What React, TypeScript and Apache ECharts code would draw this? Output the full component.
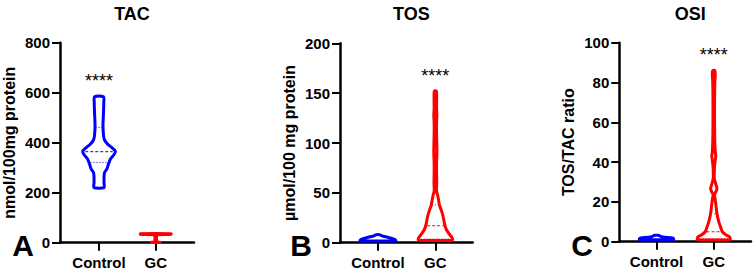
import React, { useEffect, useRef } from 'react';
import * as echarts from 'echarts';

const categories = ['Control', 'GC'];
const panelTitles = ['TAC', 'TOS', 'OSI'];
const panelLetters = ['A', 'B', 'C'];
const yNames = ['nmol/100mg protein', 'µmol/100 mg protein', 'TOS/TAC ratio'];
const yMaxes = [800, 200, 100];
const yIntervals = [200, 50, 20];
const starLabel = '****';
const starValues = [648, 167, 94];
const starGroups = [0, 1, 1];

// Violin outlines: value levels and half-widths (fraction of category spacing)
const tacControlY = [584, 560, 520, 470, 430, 411, 395, 380, 366, 352, 335, 315, 295, 280, 260, 240, 220];
const tacControlW = [0.079, 0.084, 0.079, 0.07, 0.079, 0.096, 0.149, 0.228, 0.289, 0.263, 0.202, 0.167, 0.14, 0.096, 0.088, 0.088, 0.088];
const tacGcY = [36, 34, 32, 30, 6, 3, 1.5];
const tacGcW = [0.272, 0.272, 0.053, 0.018, 0.018, 0.035, 0.079];

const tosControlY = [8, 6.5, 5, 3.5, 2.5, 1.8];
const tosControlW = [0.03, 0.09, 0.2, 0.28, 0.31, 0.31];
const tosGcY = [152, 145, 135, 128, 120, 110, 100, 90, 80, 70, 60, 52, 48, 43, 38, 33, 28, 22, 18, 13, 8, 5, 3.5, 2.5];
const tosGcW = [0.018, 0.023, 0.021, 0.027, 0.021, 0.021, 0.025, 0.027, 0.021, 0.021, 0.024, 0.02, 0.038, 0.055, 0.07, 0.1, 0.128, 0.15, 0.163, 0.193, 0.25, 0.29, 0.3, 0.29];

const osiControlY = [3.2, 2.7, 2.2, 1.9, 1.5, 1.1];
const osiControlW = [0.035, 0.07, 0.14, 0.281, 0.298, 0.298];
const osiGcY = [86, 84, 80, 70, 60, 50, 45, 43, 41, 38, 32, 28, 26.5, 25, 23.5, 22, 19, 14, 10, 7, 5, 3.5, 2.5, 1.5, 1];
const osiGcW = [0.018, 0.026, 0.018, 0.014, 0.014, 0.018, 0.026, 0.035, 0.026, 0.014, 0.009, 0.044, 0.056, 0.035, 0.011, 0.021, 0.035, 0.056, 0.088, 0.123, 0.149, 0.211, 0.272, 0.289, 0.281];

// Median and quartiles
const tacControlQuart = [364, 321, 461];
const tosGcQuart = [17, 3.7, 38];
const osiGcQuart = [5, 1.5, 14];

const BLUE = '#0000ff';
const RED = '#ff0000';
const FONT = "'Liberation Sans', Arial, sans-serif";

const grids = [
  { left: 60, top: 42.7, width: 134, height: 200, xmin: -0.688, xmax: 1.675 },
  { left: 340, top: 43.3, width: 132.7, height: 199.4, xmin: -0.66, xmax: 1.65 },
  { left: 619.3, top: 42.7, width: 131.7, height: 199, xmin: -0.65, xmax: 1.65 },
];

function interp(ys: number[], ws: number[], v: number) {
  for (let i = 0; i < ys.length - 1; i++) {
    const a = ys[i], b = ys[i + 1];
    if ((v <= a && v >= b) || (v >= a && v <= b)) {
      const t = (v - a) / (b - a || 1);
      return ws[i] + t * (ws[i + 1] - ws[i]);
    }
  }
  return ws[ws.length - 1];
}

function violin(g: number, xPos: number, ys: number[], ws: number[], color: string, quart: number[] | null) {
  return {
    type: 'custom',
    xAxisIndex: g,
    yAxisIndex: g,
    data: [[xPos]],
    silent: true,
    clip: false,
    z: 3,
    renderItem: (params: any, api: any) => {
      const x = api.value(0);
      const left = ys.map((y, i) => api.coord([x - ws[i], y]));
      const right = ys.map((y, i) => api.coord([x + ws[i], y])).reverse();
      const children: any[] = [
        {
          type: 'polygon',
          shape: { points: left.concat(right), smooth: 0.25 },
          style: { fill: '#ffffff', stroke: color, lineWidth: 3, lineJoin: 'round' },
        },
      ];
      if (quart) {
        quart.forEach((q, k) => {
          const w = interp(ys, ws, q) * 0.85;
          const p1 = api.coord([x - w, q]);
          const p2 = api.coord([x + w, q]);
          children.push({
            type: 'line',
            shape: { x1: p1[0], y1: p1[1], x2: p2[0], y2: p2[1] },
            style: { stroke: color, lineWidth: 1, lineDash: k === 0 ? [3, 2] : [1, 2] },
          });
        });
      }
      return { type: 'group', children };
    },
  };
}

function stars(g: number, xPos: number, v: number) {
  return {
    type: 'custom',
    xAxisIndex: g,
    yAxisIndex: g,
    data: [[xPos, v]],
    silent: true,
    z: 4,
    renderItem: (params: any, api: any) => {
      const p = api.coord([api.value(0), api.value(1)]);
      return {
        type: 'text',
        style: {
          text: starLabel,
          x: p[0],
          y: p[1],
          align: 'center',
          verticalAlign: 'middle',
          fontSize: 18,
          fontFamily: FONT,
          fill: '#000',
        },
      };
    },
  };
}

export default function App() {
  const ref = useRef<HTMLDivElement>(null);
  useEffect(() => {
    if (!ref.current) return;
    const chart = echarts.init(ref.current, null, { renderer: 'svg' });
    const axisFont = { fontFamily: FONT, fontWeight: 'bold' as const, color: '#000' };
    const option: any = {
      animation: false,
      backgroundColor: '#fff',
      title: grids.map((g, i) => ({
        text: panelTitles[i],
        left: g.left + g.width / 2,
        top: 0,
        textAlign: 'center',
        textStyle: { ...axisFont, fontSize: 18 },
      })),
      grid: grids.map((g) => ({ left: g.left, top: g.top, width: g.width, height: g.height, containLabel: false })),
      xAxis: grids.map((g, i) => ({
        type: 'value',
        gridIndex: i,
        min: g.xmin,
        max: g.xmax,
        axisLine: { show: true, onZero: false, lineStyle: { color: '#000', width: 2.5 } },
        axisTick: { show: true, length: 8, customValues: [0, 1], lineStyle: { color: '#000', width: 2 } },
        axisLabel: {
          customValues: [0, 1],
          formatter: (v: number) => categories[Math.round(v)] ?? '',
          margin: 12,
          fontSize: 15,
          ...axisFont,
        },
        splitLine: { show: false },
      })),
      yAxis: grids.map((g, i) => ({
        type: 'value',
        gridIndex: i,
        min: 0,
        max: yMaxes[i],
        interval: yIntervals[i],
        name: yNames[i],
        nameLocation: 'middle',
        nameGap: 43,
        nameTextStyle: { ...axisFont, fontSize: 16 },
        axisLine: { show: true, onZero: false, lineStyle: { color: '#000', width: 2.5 } },
        axisTick: { show: true, length: 8, lineStyle: { color: '#000', width: 2 } },
        axisLabel: { margin: 10, fontSize: 15, ...axisFont },
        splitLine: { show: false },
      })),
      graphic: grids.map((g, i) => ({
        type: 'text',
        x: [23, 301, 582][i],
        y: 245,
        style: {
          text: panelLetters[i],
          fontSize: 30,
          fontWeight: 'bold',
          fontFamily: FONT,
          fill: '#000',
          align: 'center',
          verticalAlign: 'middle',
        },
      })),
      series: [
        violin(0, 0, tacControlY, tacControlW, BLUE, tacControlQuart),
        violin(0, 1, tacGcY, tacGcW, RED, null),
        violin(1, 0, tosControlY, tosControlW, BLUE, null),
        violin(1, 1, tosGcY, tosGcW, RED, tosGcQuart),
        violin(2, 0, osiControlY, osiControlW, BLUE, null),
        violin(2, 1, osiGcY, osiGcW, RED, osiGcQuart),
        ...starValues.map((v, i) => stars(i, starGroups[i], v)),
      ],
    };
    chart.setOption(option);
    return () => chart.dispose();
  }, []);
  return <div ref={ref} style={{ position: 'fixed', left: 0, top: 0, width: 755, height: 270 }} />;
}
